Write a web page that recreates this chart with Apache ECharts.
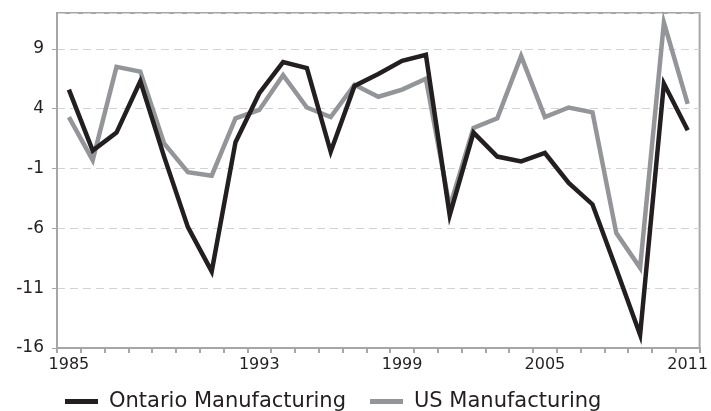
<!DOCTYPE html>
<html>
<head>
<meta charset="utf-8">
<script src="https://cdn.jsdelivr.net/npm/echarts@6/dist/echarts.min.js"></script>
<style>
html,body{margin:0;padding:0;background:#fff;}
#chart{width:711px;height:411px;}
</style>
</head>
<body>
<div id="chart"></div>
<script>
const years = ['1985','1986','1987','1988','1989','1990','1991','1992','1993','1994','1995','1996','1997','1998','1999','2000','2001','2002','2003','2004','2005','2006','2007','2008','2009','2010','2011'];
const labeledYears = ['1985','1993','1999','2005','2011'];
const ontario = [5.6, 0.5, 2.0, 6.3, 0.0, -5.9, -9.6, 1.2, 5.3, 7.9, 7.4, 0.4, 5.9, 6.9, 8.0, 8.5, -4.9, 2.0, 0.0, -0.4, 0.3, -2.2, -4.0, -9.4, -14.9, 6.1, 2.2];
const us = [3.3, -0.3, 7.5, 7.1, 1.1, -1.3, -1.6, 3.2, 3.9, 6.8, 4.1, 3.3, 6.0, 5.0, 5.6, 6.5, -4.2, 2.4, 3.2, 8.4, 3.3, 4.1, 3.7, -6.4, -9.3, 11.2, 4.4];

const font = 'DejaVu Sans';
const chart = echarts.init(document.getElementById('chart'), null, {renderer: 'canvas'});
chart.setOption({
  animation: false,
  backgroundColor: '#ffffff',
  grid: {left: 57, right: 8, top: 13, bottom: 63, show: true, borderColor: '#a6a6a6', borderWidth: 2, backgroundColor: 'transparent'},
  legend: {
    left: 60, top: 386,
    data: ['Ontario Manufacturing', 'US Manufacturing'],
    icon: 'rect', itemWidth: 33, itemHeight: 5, itemGap: 24,
    textStyle: {fontFamily: font, fontSize: 21, color: '#231f20', padding: [0, 0, 0, 6]}
  },
  xAxis: {
    type: 'category', data: years, boundaryGap: true,
    axisLine: {onZero: false, lineStyle: {color: '#a6a6a6', width: 2}},
    axisTick: {show: true, interval: 0, length: 5, lineStyle: {color: '#a6a6a6', width: 2}},
    axisLabel: {
      interval: (i, v) => labeledYears.includes(v),
      fontFamily: font, fontSize: 16, color: '#231f20', margin: 9
    },
    splitLine: {show: false}
  },
  yAxis: {
    type: 'value', min: -16, max: 12, interval: 5,
    axisLine: {show: true, lineStyle: {color: '#a6a6a6', width: 2}},
    axisTick: {show: true, length: 5, lineStyle: {color: '#a6a6a6', width: 1}},
    axisLabel: {fontFamily: font, fontSize: 17, color: '#231f20', margin: 13, showMaxLabel: false},
    splitLine: {show: true, lineStyle: {color: '#d2d2d2', width: 1, type: [8, 5]}}
  },
  series: [
    {name: 'US Manufacturing', type: 'line', data: us, symbol: 'none', color: '#939598',
     lineStyle: {color: '#939598', width: 4.5, join: 'miter'}, z: 2},
    {name: 'Ontario Manufacturing', type: 'line', data: ontario, symbol: 'none', color: '#231f20',
     lineStyle: {color: '#231f20', width: 4.5, join: 'miter'}, z: 3}
  ]
});
</script>
</body>
</html>
